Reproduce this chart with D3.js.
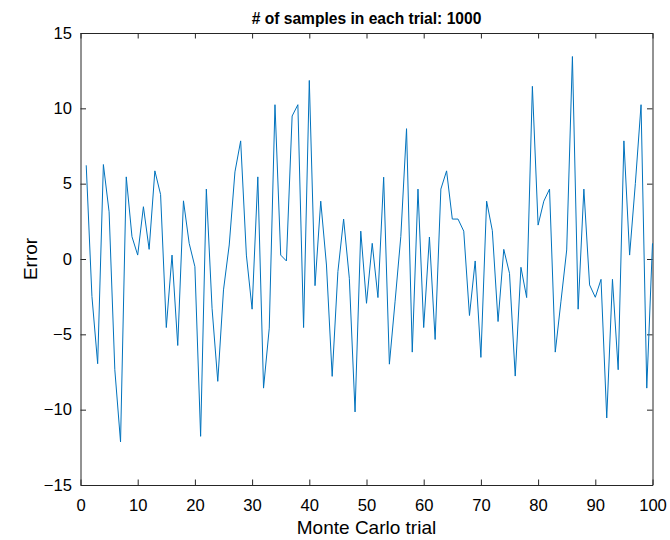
<!DOCTYPE html>
<html>
<head>
<meta charset="utf-8">
<script src="https://cdn.jsdelivr.net/npm/d3@7"></script>
<style>
  html, body { margin: 0; padding: 0; background: #fff; }
  svg { display: block; font-family: "Liberation Sans", Arial, Helvetica, sans-serif; }
</style>
</head>
<body>
<svg id="chart" width="670" height="540"></svg>
<script>
// Monte Carlo trial index and estimated error for each trial
const trials = d3.range(1, 101);
const errors = [
   6.22, -2.49, -6.95,  6.27,  3.13, -7.35, -12.14,  5.45,  1.48,  0.26,
   3.47,  0.64,  5.85,  4.28, -4.55,  0.26,  -5.74,  3.86,  1.04, -0.51,
 -11.77,  4.64, -3.27, -8.12, -2.05,  0.93,   5.78,  7.84,  0.26, -3.33,
   5.45, -8.57, -4.59, 10.24,  0.26, -0.13,   9.49, 10.24, -4.55, 11.85,
  -1.77,  3.84, -0.40, -7.79, -0.84,  2.65,  -1.28,-10.15,  1.85, -2.94,
   1.04, -2.56,  5.43, -6.98, -2.80,  1.50,   8.65, -6.18,  4.64, -4.55,
   1.46, -5.34,  4.64,  5.85,  2.65,  2.65,   1.85, -3.75, -0.13, -6.53,
   3.84,  1.88, -4.15,  0.64, -0.95, -7.77,  -0.55, -2.56, 11.46,  2.25,
   3.84,  4.64, -6.18, -2.80,  0.60, 13.44,  -3.33,  4.64, -1.72, -2.54,
  -1.35,-10.55, -1.35, -7.35,  7.84,  0.26,   5.00, 10.24, -8.57,  1.04
];
const xTicks = [0, 10, 20, 30, 40, 50, 60, 70, 80, 90, 100];
const yTicks = [-15, -10, -5, 0, 5, 10, 15];
const titleText = "# of samples in each trial: 1000";
const xLabel = "Monte Carlo trial";
const yLabel = "Error";

const svg = d3.select("#chart");
const plotLeft = 80.5, plotRight = 652.5, plotTop = 33, plotBottom = 485;
const axisColor = "#262626";
const tickLen = 5.5;
const tickFont = "16.6px";

const x = d3.scaleLinear().domain([0, 100]).range([plotLeft, plotRight]);
const y = d3.scaleLinear().domain([-15, 15]).range([plotBottom, plotTop]);

// Bottom axis with labels; ticks point inward
const gx = svg.append("g")
  .attr("transform", `translate(0,${plotBottom})`)
  .call(d3.axisBottom(x).tickValues(xTicks).tickSizeInner(-tickLen).tickSizeOuter(0));
// Left axis with labels
const gy = svg.append("g")
  .attr("transform", `translate(${plotLeft},0)`)
  .call(d3.axisLeft(y).tickValues(yTicks).tickSizeInner(-tickLen).tickSizeOuter(0).tickPadding(8.5));
// Top and right axes: ticks only (box on)
const gxt = svg.append("g")
  .attr("transform", `translate(0,${plotTop})`)
  .call(d3.axisTop(x).tickValues(xTicks).tickSizeInner(-tickLen).tickSizeOuter(0).tickFormat(""));
const gyr = svg.append("g")
  .attr("transform", `translate(${plotRight},0)`)
  .call(d3.axisRight(y).tickValues(yTicks).tickSizeInner(-tickLen).tickSizeOuter(0).tickFormat(""));

[gx, gy, gxt, gyr].forEach(g => {
  g.select(".domain").attr("stroke", axisColor).attr("stroke-width", 1);
  g.selectAll(".tick line").attr("stroke", axisColor).attr("stroke-width", 1);
  g.selectAll(".tick text").attr("fill", "#000").style("font-size", tickFont)
    .style("font-family", "'Liberation Sans', Arial, sans-serif");
});
gx.selectAll(".tick text").attr("y", 26).attr("dy", 0);

// Data line
const line = d3.line()
  .x((d, i) => x(trials[i]))
  .y(d => y(d));

svg.append("path")
  .datum(errors)
  .attr("fill", "none")
  .attr("stroke", "#0072BD")
  .attr("stroke-width", 1)
  .attr("stroke-linejoin", "miter")
  .attr("d", line);

// Title
svg.append("text")
  .attr("x", (plotLeft + plotRight) / 2)
  .attr("y", 23.5)
  .attr("text-anchor", "middle")
  .style("font-size", "15.6px")
  .style("font-weight", "bold")
  .attr("fill", "#000")
  .text(titleText);

// Axis labels
svg.append("text")
  .attr("x", (plotLeft + plotRight) / 2)
  .attr("y", 534)
  .attr("text-anchor", "middle")
  .style("font-size", "19px")
  .attr("fill", "#000")
  .text(xLabel);

svg.append("text")
  .attr("transform", `translate(37,${(plotTop + plotBottom) / 2}) rotate(-90)`)
  .attr("text-anchor", "middle")
  .style("font-size", "19px")
  .attr("fill", "#000")
  .text(yLabel);
</script>
</body>
</html>
